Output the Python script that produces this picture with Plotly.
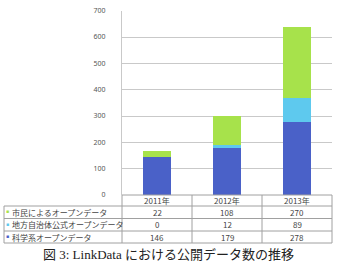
import plotly.graph_objects as go

years = ["2011年", "2012年", "2013年"]
series_names = ["市民によるオープンデータ", "地方自治体公式オープンデータ", "科学系オープンデータ"]
citizen = [22, 108, 270]
local_gov = [0, 12, 89]
science = [146, 179, 278]
colors = ["#a7e24b", "#5ec9ee", "#4a61c8"]
y_ticks = [0, 100, 200, 300, 400, 500, 600, 700]
caption = "図 3: LinkData における公開データ数の推移"

W, H = 337, 262
def px(x):
    return x / W
def py(y):
    return 1 - y / H

fig = go.Figure()
# stacked bottom to top
for vals, col in [(science, colors[2]), (local_gov, colors[1]), (citizen, colors[0])]:
    fig.add_trace(go.Bar(x=list(range(len(years))), y=vals, marker=dict(color=col, line=dict(width=0)),
                         width=0.4, showlegend=False, hoverinfo="skip"))

font_cjk = "Noto Sans CJK JP, Noto Sans, sans-serif"
fig.update_layout(
    template="none",
    width=W, height=H, margin=dict(l=0, r=0, t=0, b=0, pad=0, autoexpand=False),
    paper_bgcolor="white", plot_bgcolor="white", barmode="stack", bargap=0.6,
    xaxis=dict(domain=[px(122), px(332)], range=[-0.5, 2.5], showticklabels=False,
               showgrid=False, zeroline=False, showline=False, ticks="", automargin=False),
    yaxis=dict(domain=[py(195), py(10.7)], range=[0, 700], tickvals=y_ticks,
               showgrid=True, gridcolor="#c9c9c9", gridwidth=1, zeroline=False,
               showline=True, linecolor="#c9c9c9", linewidth=1, ticks="", automargin=False,
               tickfont=dict(size=7, color="#555555", family="Noto Sans, sans-serif"),
               ticklabelstandoff=14),
)

line_col = "#a0a0a0"
shapes = []
# horizontal table lines
shapes.append(dict(type="line", xref="paper", yref="paper", x0=px(122), x1=px(332), y0=py(195), y1=py(195)))
for yy in [206, 218.5, 231, 243]:
    shapes.append(dict(type="line", xref="paper", yref="paper", x0=px(4), x1=px(332), y0=py(yy), y1=py(yy)))
# vertical table lines
shapes.append(dict(type="line", xref="paper", yref="paper", x0=px(4), x1=px(4), y0=py(206), y1=py(243)))
for xx in [122, 192, 262, 332]:
    shapes.append(dict(type="line", xref="paper", yref="paper", x0=px(xx), x1=px(xx), y0=py(195), y1=py(243)))
for s in shapes:
    s["line"] = dict(color=line_col, width=1)
fig.update_layout(shapes=shapes)

ann = []
# header
for i, yr in enumerate(years):
    ann.append(dict(x=i, xref="x", y=py(200.5), yref="paper", text=yr, showarrow=False,
                    xanchor="center", yanchor="middle",
                    font=dict(size=8, color="#444444", family=font_cjk)))
rows = [citizen, local_gov, science]
row_y = [212.3, 224.8, 237.2]
for r, (name, vals, col) in enumerate(zip(series_names, rows, colors)):
    ann.append(dict(x=px(7.5), xref="paper", y=py(row_y[r] - 1), yref="paper", text="■", showarrow=False,
                    xanchor="center", yanchor="middle", font=dict(size=5, color=col)))
    ann.append(dict(x=px(9.5), xref="paper", y=py(row_y[r]), yref="paper", text=name, showarrow=False,
                    xanchor="left", yanchor="middle", font=dict(size=8, color="#444444", family=font_cjk)))
    for i, v in enumerate(vals):
        ann.append(dict(x=i, xref="x", y=py(row_y[r]), yref="paper", text=str(v), showarrow=False,
                        xanchor="center", yanchor="middle",
                        font=dict(size=8, color="#444444", family=font_cjk)))
ann.append(dict(x=px(168), xref="paper", y=py(254), yref="paper", text=caption, showarrow=False,
                xanchor="center", yanchor="middle",
                font=dict(size=13, color="#222222", family="Liberation Serif, Noto Sans CJK JP, serif")))
fig.update_layout(annotations=ann)

fig.write_html("out.html")
